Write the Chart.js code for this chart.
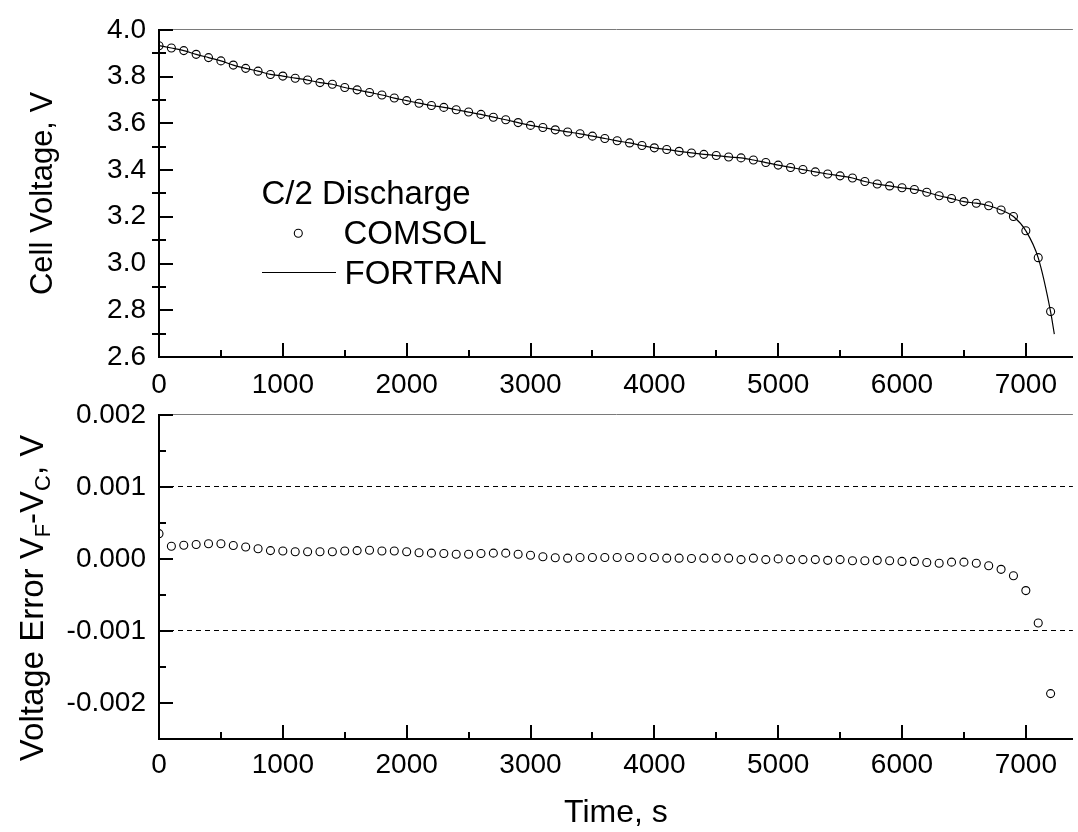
<!DOCTYPE html>
<html>
<head>
<meta charset="utf-8">
<title>C/2 Discharge</title>
<script src="https://cdn.jsdelivr.net/npm/chart.js@4/dist/chart.umd.min.js"></script>
<style>
  html, body { margin: 0; padding: 0; background: #fff; }
  #wrap { position: relative; width: 1078px; height: 832px; overflow: hidden; }
  canvas { position: absolute; left: 0; }
  #voltageChart { top: 0; }
  #errorChart { top: 385px; }
</style>
</head>
<body>
<div id="wrap">
  <canvas id="voltageChart" width="1078" height="410"></canvas>
  <canvas id="errorChart" width="1078" height="447"></canvas>
</div>
<script>
// sample times, s
const timeSec = [
  0, 100, 200, 300, 400, 500, 600, 700, 800, 900,
  1000, 1100, 1200, 1300, 1400, 1500, 1600, 1700, 1800, 1900,
  2000, 2100, 2200, 2300, 2400, 2500, 2600, 2700, 2800, 2900,
  3000, 3100, 3200, 3300, 3400, 3500, 3600, 3700, 3800, 3900,
  4000, 4100, 4200, 4300, 4400, 4500, 4600, 4700, 4800, 4900,
  5000, 5100, 5200, 5300, 5400, 5500, 5600, 5700, 5800, 5900,
  6000, 6100, 6200, 6300, 6400, 6500, 6600, 6700, 6800, 6900,
  7000, 7100, 7200
];

// COMSOL cell voltage, V
const comsolVoltage = [
  3.932, 3.922, 3.911, 3.895, 3.881, 3.867, 3.849, 3.835, 3.823, 3.809,
  3.802, 3.793, 3.785, 3.774, 3.767, 3.753, 3.743, 3.732, 3.721, 3.708,
  3.697, 3.686, 3.676, 3.668, 3.658, 3.648, 3.638, 3.626, 3.615, 3.603,
  3.591, 3.582, 3.572, 3.563, 3.555, 3.545, 3.535, 3.525, 3.516, 3.505,
  3.495, 3.488, 3.480, 3.473, 3.467, 3.462, 3.456, 3.452, 3.443, 3.432,
  3.421, 3.411, 3.402, 3.392, 3.383, 3.375, 3.366, 3.351, 3.340, 3.332,
  3.324, 3.317, 3.305, 3.290, 3.278, 3.265, 3.258, 3.247, 3.229, 3.201,
  3.140, 3.025, 2.795
];

// FORTRAN cell voltage, V (runs a little past the last COMSOL sample)
const fortranTime = [
  0, 100, 200, 300, 400, 500, 600, 700, 800, 900,
  1000, 1100, 1200, 1300, 1400, 1500, 1600, 1700, 1800, 1900,
  2000, 2100, 2200, 2300, 2400, 2500, 2600, 2700, 2800, 2900,
  3000, 3100, 3200, 3300, 3400, 3500, 3600, 3700, 3800, 3900,
  4000, 4100, 4200, 4300, 4400, 4500, 4600, 4700, 4800, 4900,
  5000, 5100, 5200, 5300, 5400, 5500, 5600, 5700, 5800, 5900,
  6000, 6100, 6200, 6300, 6400, 6500, 6600, 6700, 6800, 6900,
  7000, 7100, 7200, 7230
];
const fortranVoltage = [
  3.932, 3.922, 3.911, 3.895, 3.881, 3.867, 3.849, 3.835, 3.823, 3.809,
  3.802, 3.793, 3.785, 3.774, 3.767, 3.753, 3.743, 3.732, 3.721, 3.708,
  3.697, 3.686, 3.676, 3.668, 3.658, 3.648, 3.638, 3.626, 3.615, 3.603,
  3.591, 3.582, 3.572, 3.563, 3.555, 3.545, 3.535, 3.525, 3.516, 3.505,
  3.495, 3.488, 3.480, 3.473, 3.467, 3.462, 3.456, 3.452, 3.443, 3.432,
  3.421, 3.411, 3.402, 3.392, 3.383, 3.375, 3.366, 3.351, 3.340, 3.332,
  3.324, 3.317, 3.305, 3.290, 3.278, 3.265, 3.258, 3.247, 3.229, 3.201,
  3.140, 3.024, 2.793, 2.698
];

// V_F - V_C, V
const voltageError = [
  0.00035, 0.000175, 0.00019, 0.0002, 0.00021, 0.00021, 0.000185, 0.000165, 0.00014, 0.000115,
  0.00011, 0.0001, 0.0001, 0.0001, 0.0001, 0.00011, 0.000115, 0.00012, 0.00011, 0.00011,
  0.0001, 0.000085, 0.00008, 0.000075, 0.000065, 0.000065, 0.000075, 0.00008, 0.00008, 0.000065,
  0.00005, 0.00003, 0.000015, 0.00001, 0.00002, 0.00002, 0.00002, 0.00002, 0.00002, 0.00002,
  0.00002, 0.00001, 0.00001, 0.000005, 0.00001, 0.00001, 0.00001, -0.00001, 0.00001, -0.00001,
  0, -0.00001, -0.00001, -0.00001, -0.00002, -0.00001, -0.000025, -0.000025, -0.00002, -0.000025,
  -0.000035, -0.000035, -0.00005, -0.00006, -0.000045, -0.000045, -0.00006, -0.000095, -0.000145, -0.000235,
  -0.00044, -0.00089, -0.00187
];

// axis ticks
const timeTicks = [0, 1000, 2000, 3000, 4000, 5000, 6000, 7000];
const voltageTicks = [2.6, 2.8, 3.0, 3.2, 3.4, 3.6, 3.8, 4.0];
const errorTicks = [-0.002, -0.001, 0, 0.001, 0.002];

const legendTitle = 'C/2 Discharge';

const FONT = "'Liberation Sans', Arial, sans-serif";
Chart.defaults.font.family = FONT;
Chart.defaults.color = '#000';

const near = (a, b) => Math.abs(a - b) < 1e-9;
const pts = (xs, ys) => xs.map((x, i) => ({ x: x, y: ys[i] }));
const setTicks = list => scale => { scale.ticks = list.map(v => ({ value: v })); };

// Origin-style inward ticks, with a minor tick half way between majors
function tickMarks(minorOut) {
  return {
    id: 'tickMarks',
    afterDraw(chart) {
      const { ctx, chartArea: a, scales: { x, y } } = chart;
      ctx.save();
      ctx.strokeStyle = '#000';
      ctx.lineWidth = 2;
      ctx.beginPath();
      const xs = x.ticks.map(t => t.value);
      xs.forEach((v, i) => {
        const px = Math.round(x.getPixelForValue(v));
        ctx.moveTo(px, a.bottom); ctx.lineTo(px, a.bottom - 14);
        const mid = i + 1 < xs.length ? (v + xs[i + 1]) / 2 : v + (v - xs[i - 1]) / 2;
        if (mid < x.max) {
          const pm = Math.round(x.getPixelForValue(mid));
          ctx.moveTo(pm, a.bottom); ctx.lineTo(pm, a.bottom - 7);
        }
      });
      const ys = y.ticks.map(t => t.value);
      ys.forEach((v, i) => {
        const py = Math.round(y.getPixelForValue(v));
        ctx.moveTo(a.left, py); ctx.lineTo(a.left + 14, py);
        if (i + 1 < ys.length) {
          const pm = Math.round(y.getPixelForValue((v + ys[i + 1]) / 2));
          ctx.moveTo(a.left - minorOut, pm); ctx.lineTo(a.left + 7, pm);
        }
      });
      ctx.stroke();
      ctx.restore();
    }
  };
}

// legend block inside the voltage panel
const legendBox = {
  id: 'legendBox',
  afterDraw(chart) {
    const ctx = chart.ctx;
    const ds = chart.data.datasets;
    ctx.save();
    ctx.fillStyle = '#000';
    ctx.strokeStyle = '#000';
    ctx.font = '33px ' + FONT;
    ctx.textBaseline = 'alphabetic';
    ctx.fillText(legendTitle, 261.5, 204);
    ctx.fillText(ds[0].label, 343.5, 244);
    ctx.fillText(ds[1].label, 344.5, 283.5);
    ctx.lineWidth = 1.1;
    ctx.beginPath();
    ctx.arc(298.3, 233.3, 4, 0, Math.PI * 2);
    ctx.stroke();
    ctx.lineWidth = 1.2;
    ctx.beginPath();
    ctx.moveTo(262, 272.5); ctx.lineTo(336, 272.5);
    ctx.stroke();
    ctx.restore();
  }
};

// y title of the error panel, with subscripts
const errorTitle = {
  id: 'errorTitle',
  afterDraw(chart) {
    const { ctx, chartArea: a } = chart;
    const big = 33, small = 22;
    const parts = [
      { t: 'Voltage Error V', s: big, dy: 0 },
      { t: 'F', s: small, dy: 7 },
      { t: '-V', s: big, dy: 0 },
      { t: 'C', s: small, dy: 7 },
      { t: ', V', s: big, dy: 0 }
    ];
    ctx.save();
    let total = 0;
    parts.forEach(p => { ctx.font = p.s + 'px ' + FONT; p.w = ctx.measureText(p.t).width; total += p.w; });
    ctx.translate(43, (a.top + a.bottom) / 2 + 21);
    ctx.rotate(-Math.PI / 2);
    ctx.fillStyle = '#000';
    ctx.textBaseline = 'alphabetic';
    let cx = -total / 2;
    parts.forEach(p => {
      ctx.font = p.s + 'px ' + FONT;
      ctx.fillText(p.t, cx, p.dy);
      cx += p.w;
    });
    ctx.restore();
  }
};

const circleStyle = {
  pointStyle: 'circle',
  pointRadius: 4,
  pointBorderWidth: 1.1,
  pointBorderColor: '#000',
  pointBackgroundColor: 'rgba(0,0,0,0)',
  showLine: false,
  clip: 0
};

const tickFont = { size: 28, family: FONT };

function timeAxis(labelPad, extra) {
  return Object.assign({
    type: 'linear',
    min: 0,
    max: 7380,
    afterBuildTicks: setTicks(timeTicks),
    grid: { display: false },
    border: { display: true, color: '#000', width: 2 },
    ticks: {
      font: tickFont,
      color: '#000',
      padding: labelPad,
      maxRotation: 0,
      autoSkip: false,
      callback: v => String(v)
    }
  }, extra);
}

// upper panel: cell voltage
new Chart(document.getElementById('voltageChart'), {
  type: 'scatter',
  data: {
    datasets: [
      Object.assign({
        label: 'COMSOL',
        data: pts(timeSec, comsolVoltage)
      }, circleStyle),
      {
        label: 'FORTRAN',
        data: pts(fortranTime, fortranVoltage),
        showLine: true,
        borderColor: '#000',
        borderWidth: 1.2,
        pointRadius: 0,
        cubicInterpolationMode: 'monotone',
        clip: 0
      }
    ]
  },
  options: {
    responsive: false,
    animation: false,
    devicePixelRatio: 1,
    layout: { padding: { top: 23, right: 0, bottom: 0, left: 0 } },
    plugins: { legend: { display: false }, tooltip: { enabled: false } },
    scales: {
      x: timeAxis(3, { afterFit: s => { s.height = 53; } }),
      y: {
        type: 'linear',
        min: 2.6,
        max: 4.0,
        afterBuildTicks: setTicks(voltageTicks),
        afterFit: s => { s.width = 159; },
        grid: {
          drawTicks: false,
          lineWidth: 1,
          color: c => (c.tick && near(c.tick.value, 4.0)) ? '#7a7a7a' : 'rgba(0,0,0,0)'
        },
        border: { display: true, color: '#000', width: 2 },
        ticks: { font: tickFont, color: '#000', padding: 13, callback: v => v.toFixed(1) },
        title: {
          display: true,
          text: 'Cell Voltage, V',
          font: { size: 31, family: FONT },
          color: '#000',
          padding: { top: 25, bottom: 0 }
        }
      }
    }
  },
  plugins: [tickMarks(7), legendBox]
});

// lower panel: FORTRAN minus COMSOL
new Chart(document.getElementById('errorChart'), {
  type: 'scatter',
  data: {
    datasets: [
      Object.assign({
        label: 'V_F - V_C',
        data: pts(timeSec, voltageError)
      }, circleStyle)
    ]
  },
  options: {
    responsive: false,
    animation: false,
    devicePixelRatio: 1,
    layout: { padding: { top: 20, right: 0, bottom: 0, left: 0 } },
    plugins: { legend: { display: false }, tooltip: { enabled: false } },
    scales: {
      x: timeAxis(1, {
        afterFit: s => { s.height = 93; },
        title: {
          display: true,
          text: 'Time, s',
          font: { size: 32, family: FONT },
          color: '#000',
          padding: { top: 0, bottom: 0 }
        }
      }),
      y: {
        type: 'linear',
        min: -0.0025,
        max: 0.002,
        afterBuildTicks: setTicks(errorTicks),
        afterFit: s => { s.width = 159; },
        grid: {
          drawTicks: false,
          lineWidth: 1,
          color: c => {
            if (!c.tick) return 'rgba(0,0,0,0)';
            if (near(c.tick.value, 0.002)) return '#7a7a7a';
            if (near(Math.abs(c.tick.value), 0.001)) return '#000';
            return 'rgba(0,0,0,0)';
          }
        },
        border: {
          display: true,
          color: '#000',
          width: 2,
          dash: c => (c.tick && near(Math.abs(c.tick.value), 0.001)) ? [5, 4] : []
        },
        ticks: { font: tickFont, color: '#000', padding: 13, callback: v => v.toFixed(3) },
        title: { display: false }
      }
    }
  },
  plugins: [tickMarks(0), errorTitle]
});
</script>
</body>
</html>
